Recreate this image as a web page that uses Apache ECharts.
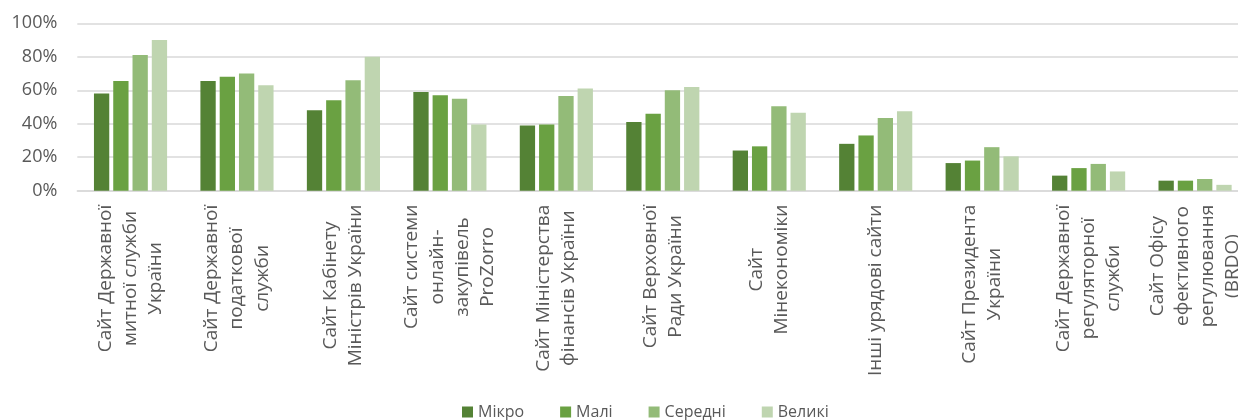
<!DOCTYPE html>
<html>
<head>
<meta charset="utf-8">
<script src="https://cdn.jsdelivr.net/npm/echarts@6/dist/echarts.min.js"></script>
<style>
  html, body { margin: 0; padding: 0; background: #fff; }
  #chart { width: 1238px; height: 420px; }
</style>
</head>
<body>
<div id="chart"></div>
<script>
// Categories (government websites), with line breaks for the rotated labels
const categories = [
  'Сайт Державної\nмитної служби\nУкраїни',
  'Сайт Державної\nподаткової\nслужби',
  'Сайт Кабінету\nМіністрів України',
  'Сайт системи\nонлайн-\nзакупівель\nProZorro',
  'Сайт Міністерства\nфінансів України',
  'Сайт Верховної\nРади України',
  'Сайт\nМінекономіки',
  'Інші урядові сайти',
  'Сайт Президента\nУкраїни',
  'Сайт Державної\nрегуляторної\nслужби',
  'Сайт Офісу\nефективного\nрегулювання\n(BRDO)'
];

// Share of enterprises by size, %
const micro  = [58, 65.5, 48, 59, 39, 41, 24, 28, 16.5, 9, 6];
const small  = [65.5, 68, 54, 57, 39.5, 46, 26.5, 33, 18, 13.5, 6];
const medium = [81, 70, 66, 55, 56.5, 60, 50.5, 43.5, 26, 16, 7];
const large  = [90, 63, 80, 39.5, 61, 62, 46.5, 47.5, 20.5, 11.5, 3.5];

const seriesNames = ['Мікро', 'Малі', 'Середні', 'Великі'];
const yTicks = [0, 20, 40, 60, 80, 100];

const colors = ['#548235', '#6aa142', '#93bb78', '#bfd5b0'];
const FONT = '"Open Sans", "Noto Sans", sans-serif';
const TEXT_COLOR = '#595959';
const CAT_FONT_SIZE = 19;
const CAT_LINE_HEIGHT = 25.3;

// Measure each label line so that the lines of a multi-line label can be
// centred on one another while the whole block stays flush with the axis.
const measureCtx = document.createElement('canvas').getContext('2d');
measureCtx.font = CAT_FONT_SIZE + 'px ' + FONT;
const textWidth = (s) => measureCtx.measureText(s).width;

const catRich = {};
const catFormatted = {};
categories.forEach((cat, ci) => {
  const lines = cat.split('\n');
  const maxW = Math.max(...lines.map(textWidth));
  catFormatted[cat] = lines.map((line, li) => {
    const key = 'l' + ci + '_' + li;
    const pad = (maxW - textWidth(line)) / 2;
    catRich[key] = {
      fontFamily: FONT,
      fontSize: CAT_FONT_SIZE,
      lineHeight: CAT_LINE_HEIGHT,
      color: TEXT_COLOR,
      padding: [0, pad, 0, pad]
    };
    return '{' + key + '|' + line + '}';
  }).join('\n');
});

const chart = echarts.init(document.getElementById('chart'), null, { renderer: 'canvas' });

const seriesData = [micro, small, medium, large];

chart.setOption({
  animation: false,
  color: colors,
  textStyle: { fontFamily: FONT },
  grid: {
    left: 77.3, width: 1171, top: 23.3, bottom: 229.3,
    containLabel: false,
    outerBoundsMode: 'none'
  },
  legend: {
    top: 404,
    left: 462,
    padding: 0,
    itemWidth: 11,
    itemHeight: 11,
    itemGap: 36,
    icon: 'rect',
    textStyle: { fontFamily: FONT, fontSize: 16, color: TEXT_COLOR },
    data: seriesNames
  },
  xAxis: {
    type: 'category',
    data: categories,
    axisTick: { show: false },
    axisLine: { lineStyle: { color: '#d9d9d9', width: 1.5 } },
    axisLabel: {
      interval: 0,
      rotate: 90,
      margin: 14,
      color: TEXT_COLOR,
      formatter: (v) => catFormatted[v],
      rich: catRich
    }
  },
  yAxis: {
    type: 'value',
    min: yTicks[0],
    max: yTicks[yTicks.length - 1],
    interval: yTicks[1] - yTicks[0],
    axisLine: { show: false },
    axisTick: { show: false },
    splitLine: { lineStyle: { color: '#d9d9d9', width: 1.5 } },
    axisLabel: {
      margin: 20,
      color: TEXT_COLOR,
      fontFamily: FONT,
      fontSize: 18,
      formatter: '{value}%'
    }
  },
  series: seriesNames.map((name, i) => ({
    name: name,
    type: 'bar',
    data: seriesData[i],
    barWidth: 15.3,
    barGap: '26%',
    itemStyle: { color: colors[i] }
  }))
});
</script>
</body>
</html>
